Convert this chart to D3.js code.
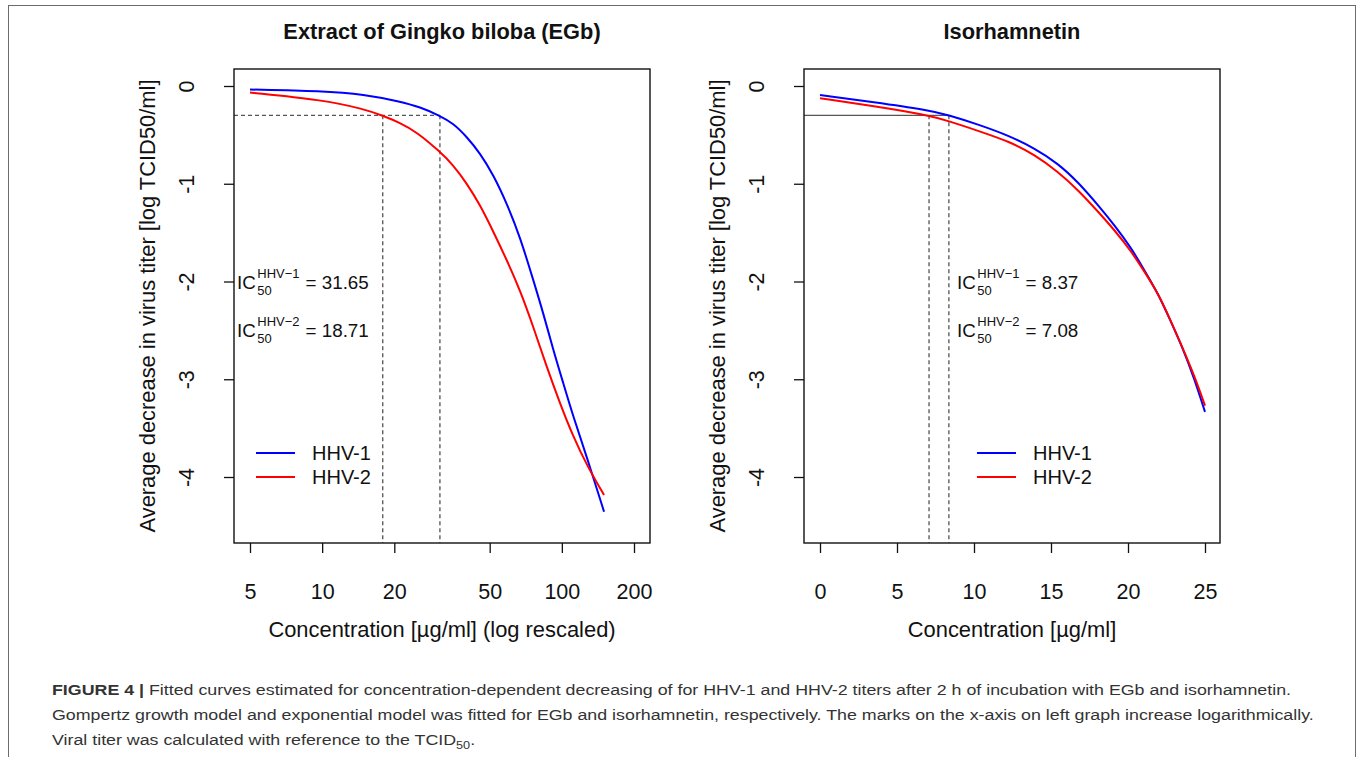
<!DOCTYPE html>
<html><head><meta charset="utf-8">
<script src="https://cdn.jsdelivr.net/npm/d3@7"></script>
<style>
html,body{margin:0;padding:0;background:#fff;}
svg{display:block;font-family:"Liberation Sans",Arial,sans-serif;}
</style></head>
<body>
<svg id="chart" width="1362" height="757"></svg>
<script>
// ---------- data ----------
const seriesNames = ["HHV-1", "HHV-2"];
const seriesColors = ["#0000ff", "#ff0000"];

// Left panel: Extract of Gingko biloba (EGb), log-scaled concentration
const egbConcHHV1 = [5, 10, 15, 21.1, 25.6, 31, 35.2, 40.1, 45.6, 51.8, 58.9, 66.9, 76, 83.7, 92.1, 101.4, 111.6, 127, 150];
const egbHHV1     = [-0.036, -0.051, -0.085, -0.158, -0.215, -0.304, -0.382, -0.519, -0.688, -0.91, -1.2, -1.542, -1.985, -2.325, -2.701, -3.041, -3.383, -3.792, -4.355];
const egbConcHHV2 = [5, 10, 15, 17.9, 21.1, 24.8, 31, 35.2, 40.1, 45.6, 51.8, 58.9, 66.9, 76, 86.4, 98.2, 111.6, 127, 150];
const egbHHV2     = [-0.067, -0.141, -0.236, -0.304, -0.375, -0.47, -0.672, -0.808, -0.995, -1.217, -1.491, -1.78, -2.087, -2.462, -2.872, -3.246, -3.588, -3.878, -4.185];
const egbCross    = [31.0, 17.9];          // positions of the dashed IC50 guides
const egbIC       = ["31.65", "18.71"];

// Right panel: Isorhamnetin, linear concentration
const isoConc = [0, 3.5, 6.99, 8.33, 10.3, 12.32, 13.9, 15.46, 16.8, 18.14, 19.15, 20.16, 21.05, 21.95, 22.7, 23.52, 24.3, 25];
const isoHHV1 = [-0.092, -0.165, -0.246, -0.297, -0.395, -0.512, -0.635, -0.792, -0.99, -1.235, -1.43, -1.645, -1.88, -2.123, -2.38, -2.669, -2.99, -3.334];
const isoHHV2 = [-0.126, -0.205, -0.297, -0.358, -0.46, -0.57, -0.7, -0.877, -1.07, -1.3, -1.48, -1.68, -1.895, -2.12, -2.375, -2.67, -2.96, -3.27];
const isoCross = [8.37, 7.08];
const isoIC    = ["8.37", "7.08"];

const halfLevel = -0.3;

const egbTicks = [5, 10, 20, 50, 100, 200];
const isoTicks = [0, 5, 10, 15, 20, 25];
const yTicks   = [0, -1, -2, -3, -4];

const titles  = ["Extract of Gingko biloba (EGb)", "Isorhamnetin"];
const xTitles = ["Concentration [µg/ml] (log rescaled)", "Concentration [µg/ml]"];
const yTitle  = "Average decrease in virus titer [log TCID50/ml]";
const icSup   = ["HHV\u22121", "HHV\u22122"];

// ---------- layout ----------
const svg = d3.select("#chart");
const FONT = '"Liberation Sans",Arial,sans-serif';
const INK = "#111";

// outer frame
svg.append("rect").attr("x", 8.5).attr("y", 5.5).attr("width", 1347).attr("height", 800)
  .attr("fill", "none").attr("stroke", "#6b6b6b").attr("stroke-width", 1);

const boxTop = 69, boxBottom = 543;
const y = d3.scaleLinear().domain([0, -4]).range([86, 477]);

const panels = [
  { left: 234, right: 650,
    x: d3.scaleLog().domain([5, 200]).range([250, 634]),
    ticks: egbTicks,
    series: [[egbConcHHV1, egbHHV1], [egbConcHHV2, egbHHV2]],
    cross: egbCross, ic: egbIC, hDashed: true,
    icX: 237, legX: 256 },
  { left: 804, right: 1220,
    x: d3.scaleLinear().domain([0, 25]).range([820, 1205]),
    ticks: isoTicks,
    series: [[isoConc, isoHHV1], [isoConc, isoHHV2]],
    cross: isoCross, ic: isoIC, hDashed: false,
    icX: 957, legX: 977 }
];

panels.forEach((p, pi) => {
  const g = svg.append("g");
  const cx = (p.left + p.right) / 2;

  // title
  g.append("text").attr("x", cx).attr("y", 39).attr("text-anchor", "middle")
    .style("font-size", "21.8px").style("font-weight", "bold").attr("fill", INK)
    .text(titles[pi]);

  // guide lines at the IC50 level
  const xMax = d3.max(p.cross);
  g.append("line")
    .attr("x1", p.left).attr("x2", p.x(xMax))
    .attr("y1", y(halfLevel)).attr("y2", y(halfLevel))
    .attr("stroke", "#555").attr("stroke-width", 1.2)
    .attr("stroke-dasharray", p.hDashed ? "4,3" : null);
  p.cross.forEach(c => {
    g.append("line")
      .attr("x1", p.x(c)).attr("x2", p.x(c))
      .attr("y1", y(halfLevel)).attr("y2", boxBottom)
      .attr("stroke", "#444").attr("stroke-width", 1.2)
      .attr("stroke-dasharray", "4,3");
  });

  // curves
  const line = d3.line().x(d => p.x(d[0])).y(d => y(d[1])).curve(d3.curveBasis);
  p.series.forEach((s, si) => {
    const pts = s[0].map((v, i) => [v, s[1][i]]);
    g.append("path").datum(pts).attr("d", line)
      .attr("fill", "none").attr("stroke", seriesColors[si]).attr("stroke-width", 2);
  });

  // box
  g.append("rect").attr("x", p.left).attr("y", boxTop)
    .attr("width", p.right - p.left).attr("height", boxBottom - boxTop)
    .attr("fill", "none").attr("stroke", INK).attr("stroke-width", 1.4);

  // x axis
  const xa = g.append("g").attr("transform", `translate(0,${boxBottom})`)
    .call(d3.axisBottom(p.x).tickValues(p.ticks).tickFormat(d => String(d)).tickSize(10).tickSizeOuter(0));
  xa.select(".domain").remove();
  xa.selectAll(".tick line").attr("stroke", INK).attr("stroke-width", 1.3);
  xa.selectAll(".tick text").attr("y", 56).attr("dy", 0)
    .style("font-size", "21.5px").style("font-family", FONT).attr("fill", INK);

  // y axis
  const ya = g.append("g").attr("transform", `translate(${p.left},0)`)
    .call(d3.axisLeft(y).tickValues(yTicks).tickFormat(d => String(d)).tickSize(10).tickSizeOuter(0));
  ya.select(".domain").remove();
  ya.selectAll(".tick line").attr("stroke", INK).attr("stroke-width", 1.3);
  ya.selectAll(".tick text")
    .attr("x", -40).attr("y", 0).attr("dy", 0)
    .attr("text-anchor", "middle")
    .attr("transform", "rotate(-90,-40,0)")
    .style("font-size", "21.5px").style("font-family", FONT).attr("fill", INK);

  // axis titles
  g.append("text").attr("x", cx).attr("y", 637).attr("text-anchor", "middle")
    .style("font-size", "21.9px").attr("fill", INK).text(xTitles[pi]);
  const yx = p.left - 79, yy = (boxTop + boxBottom) / 2;
  g.append("text").attr("x", yx).attr("y", yy).attr("text-anchor", "middle")
    .attr("transform", `rotate(-90,${yx},${yy})`)
    .style("font-size", "21.9px").attr("fill", INK).text(yTitle);

  // IC50 annotations
  p.ic.forEach((val, k) => {
    const base = 289 + k * 48;
    const t1 = g.append("text").attr("x", p.icX).attr("y", base)
      .style("font-size", "18.8px").attr("fill", INK).text("IC");
    const w = t1.node().getComputedTextLength();
    const sx = p.icX + w + 1.5;
    const sup = g.append("text").attr("x", sx).attr("y", base - 11)
      .style("font-size", "13px").attr("fill", INK).text(icSup[k]);
    const sub = g.append("text").attr("x", sx).attr("y", base + 6)
      .style("font-size", "13px").attr("fill", INK).text("50");
    const sw = Math.max(sup.node().getComputedTextLength(), sub.node().getComputedTextLength());
    g.append("text").attr("x", sx + sw + 6).attr("y", base)
      .style("font-size", "18.8px").attr("fill", INK).text("= " + val);
  });

  // legend
  seriesNames.forEach((nm, si) => {
    const ly = 453 + si * 24;
    g.append("line").attr("x1", p.legX).attr("x2", p.legX + 39)
      .attr("y1", ly).attr("y2", ly)
      .attr("stroke", seriesColors[si]).attr("stroke-width", 2);
    g.append("text").attr("x", p.legX + 56).attr("y", ly + 7)
      .style("font-size", "20px").attr("fill", INK).text(nm);
  });
});

// ---------- caption ----------
const cap = svg.append("g").attr("fill", "#333").style("font-size", "15.4px");
const l1 = cap.append("text").attr("x", 0).attr("y", 695);
l1.append("tspan").style("font-weight", "bold").text("FIGURE 4 |");
l1.append("tspan").text(" Fitted curves estimated for concentration-dependent decreasing of for HHV-1 and HHV-2 titers after 2 h of incubation with EGb and isorhamnetin.");
cap.append("text").attr("x", 0).attr("y", 720)
  .text("Gompertz growth model and exponential model was fitted for EGb and isorhamnetin, respectively. The marks on the x-axis on left graph increase logarithmically.");
const l3 = cap.append("text").attr("x", 0).attr("y", 745);
l3.append("tspan").text("Viral titer was calculated with reference to the TCID");
l3.append("tspan").attr("dy", 4).style("font-size", "11px").text("50");
l3.append("tspan").attr("dy", -4).text(".");
const natural = l1.node().getComputedTextLength();
const k = 1239 / natural;
cap.attr("transform", `translate(52,0) scale(${k},1)`);
</script>
</body></html>
